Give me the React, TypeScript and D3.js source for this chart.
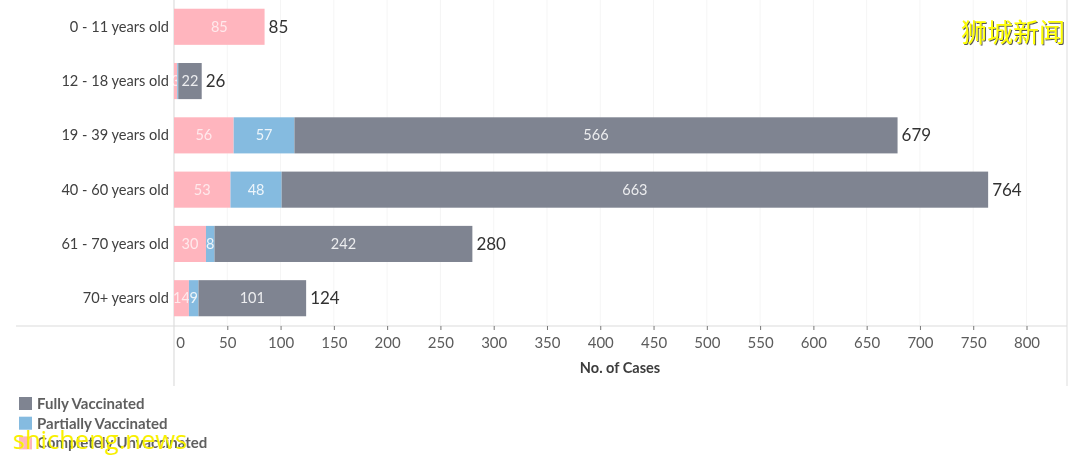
import React, { useRef, useEffect } from 'react';
import * as d3 from 'd3';

const ageGroups = ['0 - 11 years old', '12 - 18 years old', '19 - 39 years old', '40 - 60 years old', '61 - 70 years old', '70+ years old'];
const unvaccinated = [85, 3, 56, 53, 30, 14];
const partial = [0, 1, 57, 48, 8, 9];
const fully = [0, 22, 566, 663, 242, 101];
const totals = [85, 26, 679, 764, 280, 124];
const xTicks = [0, 50, 100, 150, 200, 250, 300, 350, 400, 450, 500, 550, 600, 650, 700, 750, 800];
const legendLabels = ['Fully Vaccinated', 'Partially Vaccinated', 'Completely Unvaccinated'];

const PINK = '#ffb5be';
const BLUE = '#85bbe0';
const GREY = '#7f8491';
const legendColors = [GREY, BLUE, PINK];
const FONT = 'Lato, "Open Sans", sans-serif';

export default function App() {
  const ref = useRef<SVGSVGElement>(null);

  useEffect(() => {
    const svg = d3.select(ref.current);
    svg.selectAll('*').remove();

    const x = d3.scaleLinear().domain([0, 800]).range([174, 1026.5]);
    const y = d3.scaleBand().domain(ageGroups).range([-0.5, 325.5]).paddingInner(0.335).paddingOuter(0.17);

    const defs = svg.append('defs');
    defs.append('filter').attr('id', 'soft').append('feGaussianBlur').attr('stdDeviation', 0.5);
    defs
      .append('filter')
      .attr('id', 'shadow')
      .append('feDropShadow')
      .attr('dx', 1)
      .attr('dy', 1)
      .attr('stdDeviation', 0.4)
      .attr('flood-color', '#555555');

    const g = svg.append('g').attr('filter', 'url(#soft)');

    // grid
    g.append('g')
      .selectAll('line')
      .data(xTicks.slice(1))
      .join('line')
      .attr('x1', (d) => x(d))
      .attr('x2', (d) => x(d))
      .attr('y1', 0)
      .attr('y2', 326)
      .attr('stroke', '#f5f5f5');

    // frame lines
    g.append('line').attr('x1', 174).attr('x2', 174).attr('y1', 0).attr('y2', 386).attr('stroke', '#dddddd').attr('stroke-width', 1.2);
    g.append('line').attr('x1', 1067).attr('x2', 1067).attr('y1', 0).attr('y2', 386).attr('stroke', '#e3e3e3').attr('stroke-width', 1.2);
    g.append('line').attr('x1', 16).attr('x2', 1067).attr('y1', 326).attr('y2', 326).attr('stroke', '#dcdcdc').attr('stroke-width', 1.2);

    // stacked bars
    const series = [
      { values: unvaccinated, color: PINK },
      { values: partial, color: BLUE },
      { values: fully, color: GREY },
    ];
    const bh = y.bandwidth();
    ageGroups.forEach((age, i) => {
      let start = 0;
      series.forEach((s) => {
        const v = s.values[i];
        if (v > 0) {
          g.append('rect')
            .attr('x', x(start))
            .attr('y', y(age)!)
            .attr('width', x(start + v) - x(start))
            .attr('height', bh)
            .attr('fill', s.color);
          if (v > 1) {
            g.append('text')
              .attr('x', x(start + v / 2))
              .attr('y', y(age)! + bh / 2 + 5)
              .attr('text-anchor', 'middle')
              .attr('font-family', FONT)
              .attr('font-size', 14.5)
              .attr('fill', '#ffffff')
              .attr('fill-opacity', s.color === PINK ? 0.7 : 0.85)
              .text(v);
          }
        }
        start += v;
      });
      g.append('text')
        .attr('x', x(totals[i]) + 4)
        .attr('y', y(age)! + bh / 2 + 6)
        .attr('font-family', FONT)
        .attr('font-size', 17)
        .attr('fill', '#333333')
        .text(totals[i]);
      g.append('text')
        .attr('x', 169)
        .attr('y', y(age)! + bh / 2 + 5)
        .attr('text-anchor', 'end')
        .attr('font-family', FONT)
        .attr('font-size', 14.6)
        .attr('fill', '#404040')
        .text(age);
    });

    // x axis
    const axis = g
      .append('g')
      .attr('transform', 'translate(0,326)')
      .call(d3.axisBottom(x).tickValues(xTicks).tickSize(4).tickPadding(7));
    axis.select('.domain').remove();
    axis.selectAll('.tick line').attr('stroke', '#777777');
    axis.select('.tick line').remove();
    axis
      .selectAll('text')
      .attr('font-family', FONT)
      .attr('font-size', 15)
      .attr('fill', '#5c5c5c')
      .attr('dx', (d) => (d === 0 ? 6 : 0));

    g.append('text')
      .attr('x', 620)
      .attr('y', 373)
      .attr('text-anchor', 'middle')
      .attr('font-family', FONT)
      .attr('font-size', 14.5)
      .attr('font-weight', 700)
      .attr('fill', '#3c3c3c')
      .text('No. of Cases');

    // legend
    legendLabels.forEach((label, i) => {
      const ly = 397 + i * 19.7;
      g.append('rect').attr('x', 19).attr('y', ly).attr('width', 13).attr('height', 13).attr('fill', legendColors[i]);
      g.append('text')
        .attr('x', 37)
        .attr('y', ly + 12)
        .attr('font-family', FONT)
        .attr('font-size', 15)
        .attr('font-weight', 700)
        .attr('fill', '#5f5f5f')
        .text(label);
    });

    // watermarks sit on top, not blurred
    svg
      .append('text')
      .attr('x', 1065)
      .attr('y', 42)
      .attr('text-anchor', 'end')
      .attr('font-family', '"Noto Sans CJK SC"')
      .attr('font-size', 26)
      .attr('fill', '#ffff00')
      .attr('filter', 'url(#shadow)')
      .text('狮城新闻');
    svg
      .append('text')
      .attr('x', 13)
      .attr('y', 449)
      .attr('font-family', '"Open Sans", sans-serif')
      .attr('font-size', 25.5)
      .attr('fill', '#f8f000')
      .text('shicheng.news');
  }, []);

  return (
    <svg
      ref={ref}
      width={1080}
      height={460}
      style={{ position: 'absolute', left: 0, top: 0, background: '#ffffff' }}
    />
  );
}
